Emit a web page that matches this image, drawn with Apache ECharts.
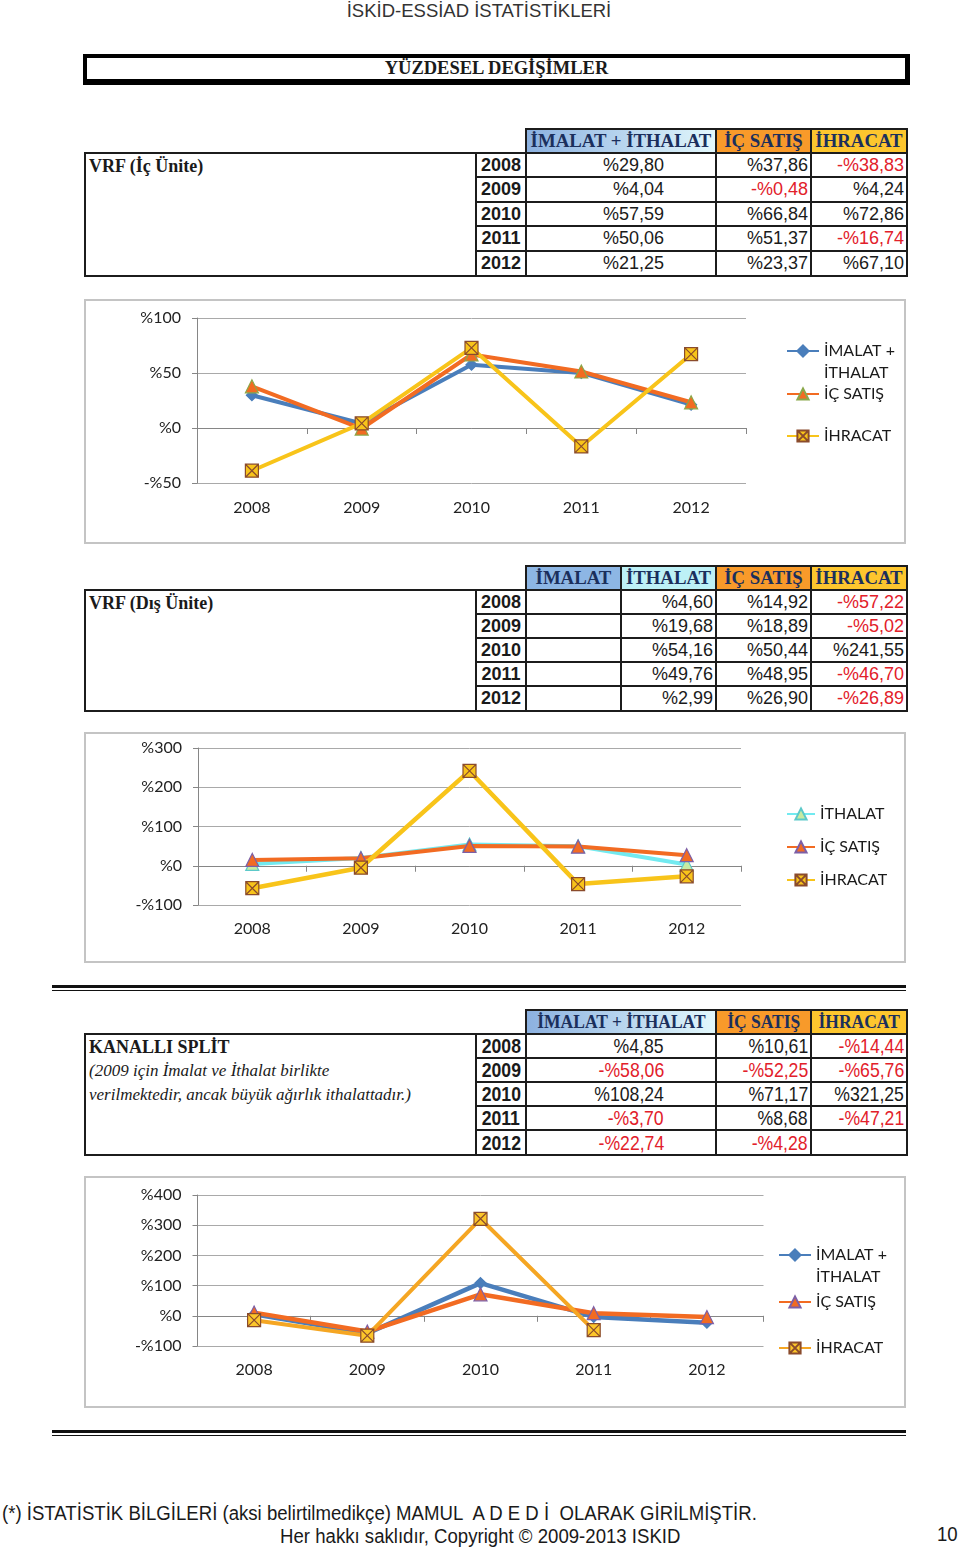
<!DOCTYPE html>
<html>
<head>
<meta charset="utf-8">
<script src="https://cdn.jsdelivr.net/npm/echarts@6/dist/echarts.min.js"></script>
<style>
  html,body{margin:0;padding:0;background:#fff;}
  body{width:960px;height:1550px;position:relative;overflow:hidden;font-family:"Liberation Sans",Arial,sans-serif;color:#1a1a1a;}
  .abs{position:absolute;white-space:nowrap;}
  .cell{position:absolute;box-sizing:border-box;border:2px solid #1c1c1c;overflow:hidden;white-space:nowrap;}
  .hdr{font-family:"Liberation Serif","Times New Roman",serif;font-weight:bold;font-size:18px;color:#1b2f5c;text-align:center;}
  .yr{font-weight:bold;font-size:18px;text-align:center;}
  .val{font-size:18px;text-align:right;}
  .sq{display:inline-block;}
  .neg{color:#e2202a;}
  .lbl{font-family:"Liberation Serif","Times New Roman",serif;font-weight:bold;font-size:18px;}
  .ital{font-family:"Liberation Serif","Times New Roman",serif;font-style:italic;font-size:17px;}
  .chart{position:absolute;}
  .frame{position:absolute;box-sizing:border-box;border:2px solid #c4c4c4;pointer-events:none;}
</style>
</head>
<body>
<div class="abs" style="left:0;width:958px;top:0;text-align:center;font-size:18.5px;color:#333;line-height:21px;">İSKİD-ESSİAD İSTATİSTİKLERİ</div>

<div class="abs" style="left:83px;top:54px;width:827px;height:31px;box-sizing:border-box;border:4px solid #000;border-right-width:5px;border-bottom-width:6px;background:#fff;"></div>
<div class="abs" style="left:83px;width:827px;top:57px;line-height:22px;text-align:center;font-family:'Liberation Serif','Times New Roman',serif;font-weight:bold;font-size:18.5px;">YÜZDESEL DEGİŞİMLER</div>

<div id="t1"></div>
<div id="c1" class="chart" style="left:85px;top:300px;width:820px;height:243px;"></div>
<div class="frame" style="left:84px;top:299px;width:822px;height:245px;"></div>

<div id="t2"></div>
<div id="c2" class="chart" style="left:85px;top:733px;width:820px;height:229px;"></div>
<div class="frame" style="left:84px;top:732px;width:822px;height:231px;"></div>

<div class="abs" style="left:52px;top:985px;width:854px;height:3px;background:#111;"></div>
<div class="abs" style="left:52px;top:990px;width:854px;height:1px;background:#111;"></div>

<div id="t3"></div>
<div id="c3" class="chart" style="left:85px;top:1177px;width:820px;height:230px;"></div>
<div class="frame" style="left:84px;top:1176px;width:822px;height:232px;"></div>

<div class="abs" style="left:52px;top:1430px;width:854px;height:3px;background:#111;"></div>
<div class="abs" style="left:52px;top:1435px;width:854px;height:1px;background:#111;"></div>

<div class="abs" style="left:2px;top:1502px;font-size:20px;line-height:22px;"><span class="sq" style="transform:scaleX(0.93);transform-origin:0 50%;">(*) İSTATİSTİK BİLGİLERİ (aksi belirtilmedikçe) MAMUL&nbsp; A D E D İ&nbsp; OLARAK GİRİLMİŞTİR.</span></div>
<div class="abs" style="left:0;width:960px;text-align:center;top:1525px;font-size:20px;line-height:22px;"><span class="sq" style="transform:scaleX(0.93);transform-origin:50% 50%;">Her hakkı saklıdır, Copyright © 2009-2013 ISKID</span></div>
<div class="abs" style="left:937px;top:1523px;font-size:20px;line-height:22px;"><span class="sq" style="transform:scaleX(0.93);transform-origin:0 50%;">10</span></div>

<script>
// ---------------- DATA ----------------
const YEARS = ['2008', '2009', '2010', '2011', '2012'];

// VRF (İç Ünite)
const VRF_IC_IMALAT_ITHALAT = [29.80, 4.04, 57.59, 50.06, 21.25];
const VRF_IC_IC_SATIS      = [37.86, -0.48, 66.84, 51.37, 23.37];
const VRF_IC_IHRACAT       = [-38.83, 4.24, 72.86, -16.74, 67.10];

// VRF (Dış Ünite)
const VRF_DIS_IMALAT   = [null, null, null, null, null];
const VRF_DIS_ITHALAT  = [4.60, 19.68, 54.16, 49.76, 2.99];
const VRF_DIS_IC_SATIS = [14.92, 18.89, 50.44, 48.95, 26.90];
const VRF_DIS_IHRACAT  = [-57.22, -5.02, 241.55, -46.70, -26.89];

// KANALLI SPLİT
const KS_IMALAT_ITHALAT = [4.85, -58.06, 108.24, -3.70, -22.74];
const KS_IC_SATIS       = [10.61, -52.25, 71.17, 8.68, -4.28];
const KS_IHRACAT        = [-14.44, -65.76, 321.25, -47.21, null];

// Axis ranges / tick labels
const Y1 = {min: -50, max: 100, interval: 50};
const Y2 = {min: -100, max: 300, interval: 100};
const Y3 = {min: -100, max: 400, interval: 100};

const N_IMALAT_ITHALAT = 'İMALAT + İTHALAT';
const N_IMALAT = 'İMALAT';
const N_ITHALAT = 'İTHALAT';
const N_IC_SATIS = 'İÇ SATIŞ';
const N_IHRACAT = 'İHRACAT';

// ---------------- TABLES ----------------
function fmt(v) {
  if (v === null || v === undefined) return '';
  const s = Math.abs(v).toFixed(2).replace('.', ',');
  return (v < 0 ? '-%' : '%') + s;
}
function squeeze(text, k, origin) {
  if (!k || !text) return text;
  return '<span class="sq" style="transform:scaleX(' + k + ');transform-origin:' + origin + ' 50%;">' + text + '</span>';
}
function mkCell(parent, x0, y0, x1, y1, cls, html, style) {
  const d = document.createElement('div');
  d.className = 'cell ' + (cls || '');
  d.style.left = (x0 - 1) + 'px';
  d.style.top = (y0 - 1) + 'px';
  d.style.width = (x1 - x0 + 2) + 'px';
  d.style.height = (y1 - y0 + 2) + 'px';
  d.style.lineHeight = (y1 - y0 - 2) + 'px';
  if (style) Object.assign(d.style, style);
  d.innerHTML = html || '';
  parent.appendChild(d);
  return d;
}
function buildTable(id, t) {
  const p = document.getElementById(id);
  const k = t.narrow || 0;
  t.headers.forEach((h, i) => {
    mkCell(p, t.colX[i + 1], t.headY[0], t.colX[i + 2], t.headY[1], 'hdr',
      squeeze(h.text, t.hdrSqueeze, '50%'), {background: h.bg, fontSize: (t.hdrSize || 18) + 'px'});
  });
  mkCell(p, t.labelX, t.rowY[0], t.colX[0], t.rowY[t.rowY.length - 1], '', t.label, {lineHeight: '24px', padding: '0 0 0 3px'});
  YEARS.forEach((y, r) => {
    const y0 = t.rowY[r], y1 = t.rowY[r + 1];
    mkCell(p, t.colX[0], y0, t.colX[1], y1, 'yr', squeeze(y, k, '50%'), {fontSize: (k ? 21 : 18) + 'px'});
    t.cols.forEach((c, i) => {
      const v = c[r];
      mkCell(p, t.colX[i + 1], y0, t.colX[i + 2], y1,
        'val' + (v !== null && v < 0 ? ' neg' : ''),
        squeeze(fmt(v), k, '100%'), {paddingRight: t.pads[i] + 'px', fontSize: (k ? 21 : 18) + 'px'});
    });
  });
}
const GRAD = 'linear-gradient(to right, #8cb1e0, #e2f8fc)';
const ORANGE_BG = '#f89a2a';
const YELLOW_BG = '#fdc62e';

buildTable('t1', {
  labelX: 85, colX: [476, 526, 716, 811, 907], headY: [129, 153], rowY: [153, 177, 202, 226, 251, 276],
  headers: [{text: N_IMALAT_ITHALAT, bg: GRAD}, {text: N_IC_SATIS, bg: ORANGE_BG}, {text: N_IHRACAT, bg: YELLOW_BG}],
  cols: [VRF_IC_IMALAT_ITHALAT, VRF_IC_IC_SATIS, VRF_IC_IHRACAT], pads: [51, 2, 2], hdrSize: 18.8,
  label: '<div class="lbl" style="line-height:24px;">VRF (İç Ünite)</div>'
});
buildTable('t2', {
  labelX: 85, colX: [476, 526, 621, 716, 811, 907], headY: [566, 590], rowY: [590, 614, 638, 662, 686, 711],
  headers: [{text: N_IMALAT, bg: '#8db6e4'}, {text: N_ITHALAT, bg: '#bdf1f6'}, {text: N_IC_SATIS, bg: ORANGE_BG}, {text: N_IHRACAT, bg: YELLOW_BG}],
  cols: [VRF_DIS_IMALAT, VRF_DIS_ITHALAT, VRF_DIS_IC_SATIS, VRF_DIS_IHRACAT], pads: [2, 2, 2, 2], hdrSize: 18.8,
  label: '<div class="lbl" style="line-height:24px;">VRF (Dış Ünite)</div>'
});
buildTable('t3', {
  labelX: 85, colX: [476, 526, 716, 811, 907], headY: [1010, 1034], rowY: [1034, 1058, 1082, 1106, 1130, 1155],
  headers: [{text: N_IMALAT_ITHALAT, bg: GRAD}, {text: N_IC_SATIS, bg: ORANGE_BG}, {text: N_IHRACAT, bg: YELLOW_BG}],
  cols: [KS_IMALAT_ITHALAT, KS_IC_SATIS, KS_IHRACAT], pads: [51, 2, 2], narrow: 0.84, hdrSize: 19, hdrSqueeze: 0.92,
  label: '<div class="lbl" style="line-height:24px;">KANALLI SPLİT</div>' +
         '<div class="ital" style="line-height:24px;">(2009 için İmalat ve İthalat birlikte</div>' +
         '<div class="ital" style="line-height:24px;">verilmektedir, ancak büyük ağırlık ithalattadır.)</div>'
});

// ---------------- CHARTS ----------------
const FONT = 'Lato';
const AX = '#868686';
const X_SYMBOL = 'path://M0,0H10V10H0Z M0,0L10,10 M10,0L0,10';

function pctLabel(v) { return v < 0 ? '-%' + (-v) : '%' + v; }

function baseAxes(grid, y, xMargin, yMargin) {
  return {
    grid: Object.assign({outerBoundsMode: 'none', containLabel: false}, grid),
    xAxis: {
      type: 'category', data: YEARS, boundaryGap: true,
      axisLine: {show: true, lineStyle: {color: AX, width: 1}},
      axisTick: {show: true, length: 6, alignWithLabel: false, lineStyle: {color: AX}},
      axisLabel: {fontFamily: FONT, fontSize: 16, color: '#222', margin: xMargin, interval: 0},
      splitLine: {show: false}
    },
    yAxis: {
      type: 'value', min: y.min, max: y.max, interval: y.interval,
      axisLine: {show: true, lineStyle: {color: AX, width: 1}},
      axisTick: {show: true, length: 5, lineStyle: {color: AX}},
      axisLabel: {fontFamily: FONT, fontSize: 16, color: '#222', margin: yMargin, formatter: pctLabel},
      splitLine: {show: true, lineStyle: {color: '#a9a9a9', width: 1}}
    }
  };
}

function legendItem(name, left, top, multi) {
  return {
    data: [name], left: left, top: top, orient: 'vertical', padding: 0,
    itemWidth: 32, itemHeight: 14, itemGap: 0, selectedMode: false,
    textStyle: {fontFamily: FONT, fontSize: 16, color: '#1a1a1a', lineHeight: multi ? 22 : 22},
    formatter: multi ? function () { return ' \n' + multi[0] + '\n' + multi[1]; } : undefined
  };
}

function lineSeries(name, data, color, width, symbol, size, fill, border, z) {
  return {
    name: name, type: 'line', data: data, z: z,
    connectNulls: false,
    lineStyle: {color: color, width: width},
    itemStyle: {color: fill, borderColor: border, borderWidth: 1.2},
    symbol: symbol, symbolSize: size, showSymbol: true, symbolKeepAspect: true,
    emphasis: {disabled: true}, animation: false
  };
}

const BLUE = '#4a7ebb';
const ORANGE = '#f26b22';
const YELLOW = '#f8c41a';
const CYAN = '#72eaf0';
const PURPLE = '#7d5fa6';
const OLIVE = '#8aa84a';
const BROWN = '#8a4b2c';

// Chart 1
(function () {
  const ch = echarts.init(document.getElementById('c1'), null, {renderer: 'canvas'});
  const o = baseAxes({left: 112, top: 18, width: 549, height: 165}, Y1, 17, 16);
  o.animation = false;
  o.legend = [
    legendItem(N_IMALAT_ITHALAT, 701, 18, ['İMALAT +', 'İTHALAT']),
    legendItem(N_IC_SATIS, 701, 83),
    legendItem(N_IHRACAT, 701, 125)
  ];
  o.series = [
    lineSeries(N_IMALAT_ITHALAT, VRF_IC_IMALAT_ITHALAT, BLUE, 4, 'diamond', 11, BLUE, BLUE, 2),
    lineSeries(N_IC_SATIS, VRF_IC_IC_SATIS, ORANGE, 4, 'triangle', 13, ORANGE, OLIVE, 3),
    lineSeries(N_IHRACAT, VRF_IC_IHRACAT, YELLOW, 4, X_SYMBOL, 13, YELLOW, BROWN, 4)
  ];
  ch.setOption(o);
})();

// Chart 2
(function () {
  const ch = echarts.init(document.getElementById('c2'), null, {renderer: 'canvas'});
  const o = baseAxes({left: 113, top: 15, width: 543, height: 157}, Y2, 16, 16);
  o.animation = false;
  o.legend = [
    legendItem(N_ITHALAT, 701, 70),
    legendItem(N_IC_SATIS, 701, 103),
    legendItem(N_IHRACAT, 701, 136)
  ];
  o.legend.forEach(l => { l.itemWidth = 28; });
  o.series = [
    lineSeries(N_ITHALAT, VRF_DIS_ITHALAT, CYAN, 4, 'triangle', 13, '#c8eaa2', '#5cc9c9', 2),
    lineSeries(N_IC_SATIS, VRF_DIS_IC_SATIS, ORANGE, 4, 'triangle', 13, ORANGE, PURPLE, 3),
    lineSeries(N_IHRACAT, VRF_DIS_IHRACAT, YELLOW, 4.5, X_SYMBOL, 13, YELLOW, BROWN, 4)
  ];
  ch.setOption(o);
})();

// Chart 3
(function () {
  const ch = echarts.init(document.getElementById('c3'), null, {renderer: 'canvas'});
  const o = baseAxes({left: 112.5, top: 18, width: 566, height: 151}, Y3, 16, 16);
  o.animation = false;
  o.legend = [
    legendItem(N_IMALAT_ITHALAT, 693, 45, ['İMALAT +', 'İTHALAT']),
    legendItem(N_IC_SATIS, 693, 114),
    legendItem(N_IHRACAT, 693, 160)
  ];
  o.series = [
    lineSeries(N_IMALAT_ITHALAT, KS_IMALAT_ITHALAT, BLUE, 4.5, 'diamond', 11, BLUE, BLUE, 2),
    lineSeries(N_IC_SATIS, KS_IC_SATIS, ORANGE, 4.5, 'triangle', 13, ORANGE, PURPLE, 3),
    lineSeries(N_IHRACAT, KS_IHRACAT, '#f5a623', 4, X_SYMBOL, 13, '#fcc62a', BROWN, 4)
  ];
  ch.setOption(o);
})();
</script>
</body>
</html>
